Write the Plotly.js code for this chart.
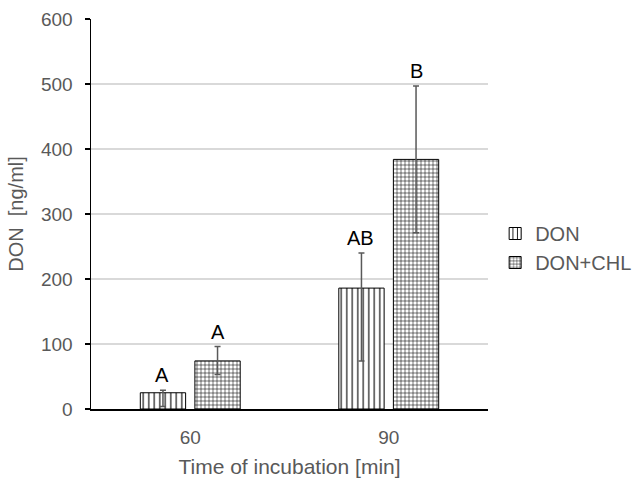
<!DOCTYPE html>
<html>
<head>
<meta charset="utf-8">
<script src="https://cdn.plot.ly/plotly-3.0.1.min.js"></script>
<style>html,body{margin:0;padding:0;background:#fff;}#chart{width:641px;height:480px;}</style>
</head>
<body>
<div id="chart"></div>
<script>
const categories = ['60', '90'];
const seriesNames = ['DON', 'DON+CHL'];
const donValues = [25, 186];
const donErrPlus = [4, 54];
const donErrMinus = [21, 112];
const chlValues = [74, 384];
const chlErrPlus = [22, 113];
const chlErrMinus = [21, 113];
const donLetters = ['A', 'AB'];
const chlLetters = ['A', 'B'];
const yTicks = [0, 100, 200, 300, 400, 500, 600];

const grey = '#595959';
const fontFam = 'Liberation Sans, Arial, sans-serif';

const traces = [
  {
    type: 'bar', name: seriesNames[0], x: categories, y: donValues,
    marker: {color: '#ffffff', line: {color: '#000000', width: 1},
             pattern: {shape: '|', size: 5.5, solidity: 0.2, fgcolor: '#000000', bgcolor: '#ffffff'}},
    error_y: {type: 'data', symmetric: false, array: donErrPlus, arrayminus: donErrMinus,
              color: grey, thickness: 1.5, width: 3}
  },
  {
    type: 'bar', name: seriesNames[1], x: categories, y: chlValues,
    marker: {color: '#ffffff', line: {color: '#000000', width: 1},
             pattern: {shape: '+', size: 4, solidity: 0.25, fgcolor: '#000000', bgcolor: '#ffffff'}},
    error_y: {type: 'data', symmetric: false, array: chlErrPlus, arrayminus: chlErrMinus,
              color: grey, thickness: 1.5, width: 3}
  }
];

const annotations = [];
categories.forEach((c, i) => {
  annotations.push({x: i, y: donValues[i] + donErrPlus[i], xref: 'x', yref: 'y', text: donLetters[i],
    showarrow: false, xshift: -28, yshift: 2, yanchor: 'bottom', font: {size: 20, color: '#000000', family: fontFam}});
  annotations.push({x: i, y: chlValues[i] + chlErrPlus[i], xref: 'x', yref: 'y', text: chlLetters[i],
    showarrow: false, xshift: 28, yshift: 2, yanchor: 'bottom', font: {size: 20, color: '#000000', family: fontFam}});
});

const layout = {
  width: 641, height: 480,
  margin: {l: 91, r: 153, t: 19, b: 71, autoexpand: false},
  paper_bgcolor: '#ffffff', plot_bgcolor: '#ffffff',
  font: {family: fontFam, color: grey, size: 19},
  barmode: 'group', bargap: 0.45, bargroupgap: 0.17,
  xaxis: {
    type: 'category', range: [-0.5, 1.5], autorange: false,
    showline: true, linecolor: '#000000', linewidth: 1.5,
    ticks: '', showgrid: false, tickfont: {size: 19, color: grey}, ticklabelstandoff: 11,
    title: {text: 'Time of incubation [min]', font: {size: 21, color: grey}, standoff: 12}
  },
  yaxis: {
    range: [0, 600], autorange: false, tickvals: yTicks, ticktext: yTicks.map(String),
    showline: true, linecolor: '#000000', linewidth: 1.5,
    ticks: 'outside', ticklen: 5, tickcolor: '#000000', tickwidth: 1.5,
    showgrid: true, gridcolor: '#d9d9d9', gridwidth: 1.5, zeroline: false,
    tickfont: {size: 19, color: grey}, ticklabelstandoff: 8,
    title: {text: 'DON  [ng/ml]', font: {size: 20, color: grey}, standoff: 12}
  },
  legend: {x: 1.018, xanchor: 'left', y: 0.5, yanchor: 'top', font: {size: 20, color: grey},
           tracegroupgap: 0, itemwidth: 30, bgcolor: 'rgba(0,0,0,0)'},
  annotations: annotations,
  showlegend: true
};

Plotly.newPlot('chart', traces, layout, {displayModeBar: false, staticPlot: true});
</script>
</body>
</html>
